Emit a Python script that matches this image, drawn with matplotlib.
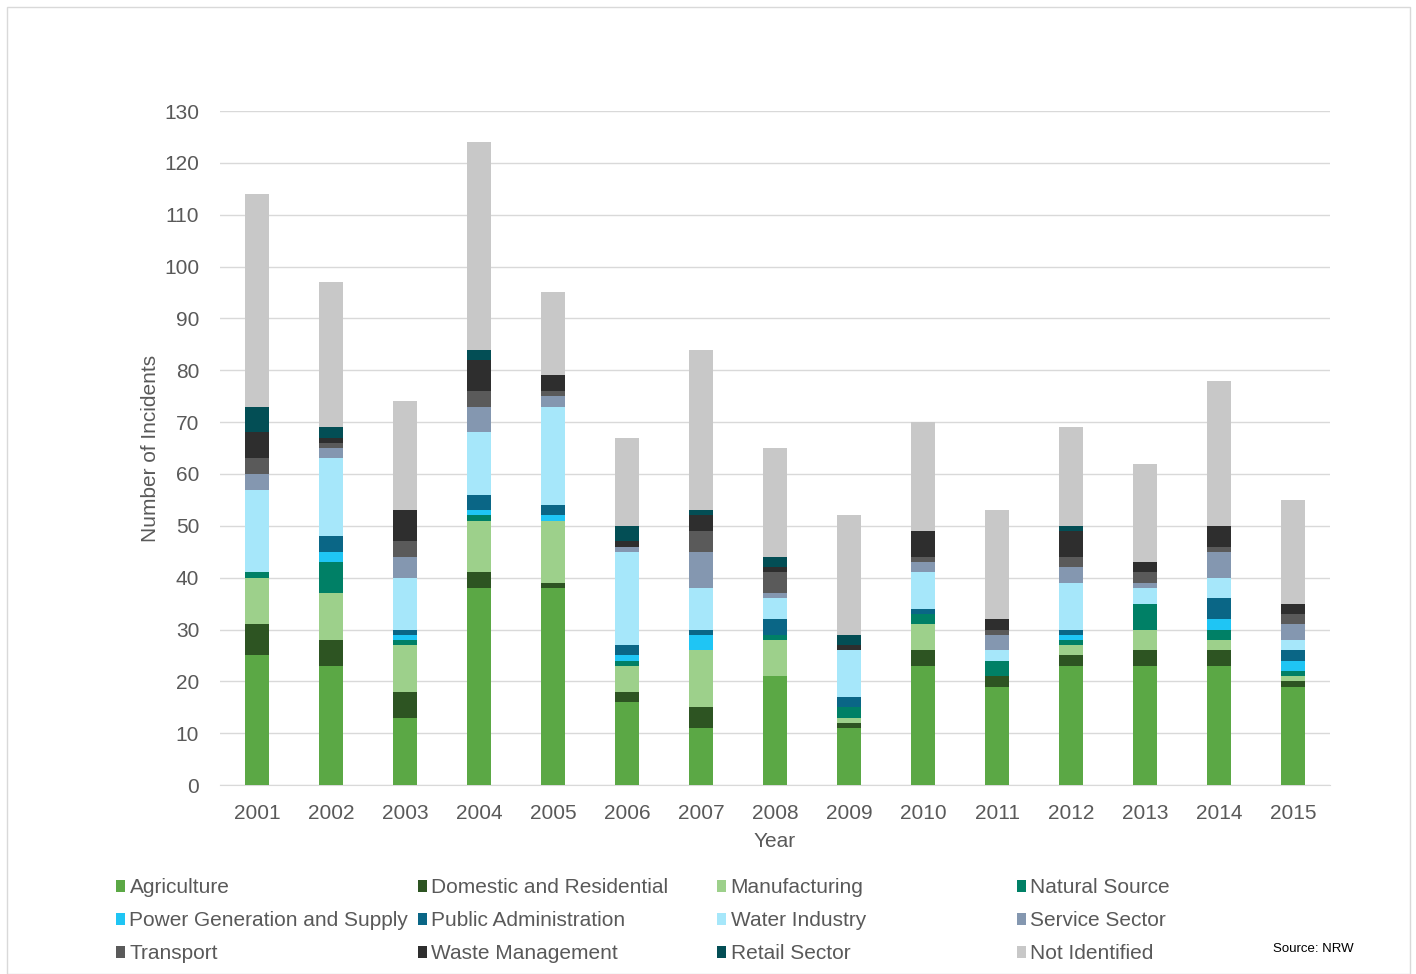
import numpy as np
import matplotlib
matplotlib.use("Agg")
import matplotlib.pyplot as plt
from matplotlib.patches import Rectangle

plt.rcParams['font.family'] = ['Liberation Sans', 'DejaVu Sans']

years = ['2001', '2002', '2003', '2004', '2005', '2006', '2007', '2008',
         '2009', '2010', '2011', '2012', '2013', '2014', '2015']

agriculture   = [25, 23, 13, 38, 38, 16, 11, 21, 11, 23, 19, 23, 23, 23, 19]
domestic      = [6, 5, 5, 3, 1, 2, 4, 0, 1, 3, 2, 2, 3, 3, 1]
manufacturing = [9, 9, 9, 10, 12, 5, 11, 7, 1, 5, 0, 2, 4, 2, 1]
natural       = [1, 6, 1, 1, 0, 1, 0, 1, 2, 2, 3, 1, 5, 2, 1]
power         = [0, 2, 1, 1, 1, 1, 3, 0, 0, 0, 0, 1, 0, 2, 2]
public_admin  = [0, 3, 1, 3, 2, 2, 1, 3, 2, 1, 0, 1, 0, 4, 2]
water         = [16, 15, 10, 12, 19, 18, 8, 4, 9, 7, 2, 9, 3, 4, 2]
service       = [3, 2, 4, 5, 2, 1, 7, 1, 0, 2, 3, 3, 1, 5, 3]
transport     = [3, 1, 3, 3, 1, 0, 4, 4, 0, 1, 1, 2, 2, 1, 2]
waste         = [5, 1, 6, 6, 3, 1, 3, 1, 1, 5, 2, 5, 2, 4, 2]
retail        = [5, 2, 0, 2, 0, 3, 1, 2, 2, 0, 0, 1, 0, 0, 0]
not_ident     = [41, 28, 21, 40, 16, 17, 31, 21, 23, 21, 21, 19, 19, 28, 20]

labels = ['Agriculture', 'Domestic and Residential', 'Manufacturing', 'Natural Source',
          'Power Generation and Supply', 'Public Administration', 'Water Industry', 'Service Sector',
          'Transport', 'Waste Management', 'Retail Sector', 'Not Identified']
series = [agriculture, domestic, manufacturing, natural, power, public_admin,
          water, service, transport, waste, retail, not_ident]
colors = ['#5BA845', '#2D5422', '#9DD08B', '#008066', '#1FC5F4', '#0A6686',
          '#A6E7FA', '#8497B0', '#5A5A5A', '#2E2E2E', '#034E55', '#C8C8C8']

fig = plt.figure(figsize=(14.16, 9.74), dpi=100)
ax = fig.add_axes([0.1554, 0.194, 0.7839, 0.692])

ind = np.arange(len(years))
bottom = np.zeros(len(years))
bars = []
for vals, lab, col in zip(series, labels, colors):
    b = ax.bar(ind, vals, 0.33, bottom=bottom, color=col, label=lab, zorder=3)
    bars.append(b)
    bottom += np.asarray(vals)

ax.set_xlim(-0.5, len(years) - 0.5)
ax.set_ylim(0, 130)
ax.set_yticks(np.arange(0, 131, 10))
ax.set_xticks(ind)
ax.set_xticklabels(years)
ax.grid(axis='y', color='#D9D9D9', linewidth=1, zorder=0)
for s in ['top', 'right', 'left']:
    ax.spines[s].set_visible(False)
ax.spines['bottom'].set_color('#D9D9D9')
ax.tick_params(length=0, labelsize=15, colors='#595959')
ax.tick_params(axis='x', pad=14)
ax.tick_params(axis='y', pad=15)
ax.set_ylabel('Number of Incidents', fontsize=15, color='#595959', labelpad=3)
ax.set_xlabel('Year', fontsize=15, color='#595959', labelpad=6)

# legend: 4 columns of 3 rows, row-wise order
col_x = [0.076, 0.289, 0.5005, 0.712]
for j in range(4):
    idx = [j, j + 4, j + 8]
    fig.legend([bars[i] for i in idx], [labels[i] for i in idx],
               loc='upper left', bbox_to_anchor=(col_x[j], 0.1067),
               frameon=False, fontsize=15, handlelength=0.45, handleheight=0.45,
               handletextpad=0.2, labelspacing=0.67, borderaxespad=0,
               labelcolor='#595959')

fig.text(0.956, 0.026, 'Source: NRW', fontsize=9.5, ha='right', va='center', color='#000000')

fig.patches.append(Rectangle((0.005, 0.0), 0.991, 0.993, transform=fig.transFigure,
                             fill=False, edgecolor='#D9D9D9', linewidth=1))

plt.savefig('out.png', dpi=100)
plt.close()
